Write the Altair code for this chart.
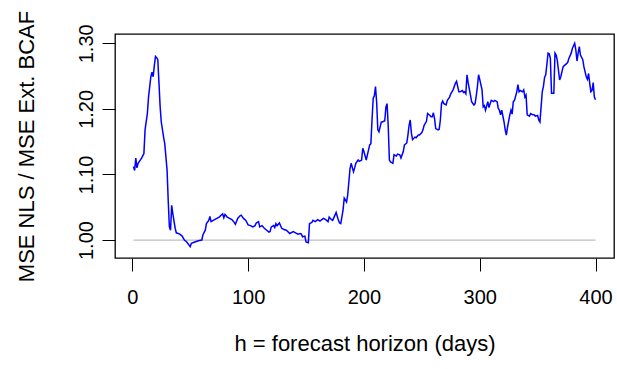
import altair as alt
import pandas as pd

# forecast horizon (days) and MSE ratio
h = [1, 2, 3, 4, 5, 8, 10, 11, 13, 14, 16, 17, 18, 19, 20, 21, 22, 23, 24, 25,
     27, 28, 30, 31, 32, 33, 34, 35, 37, 38, 41, 43, 45, 47, 50, 51, 54, 57, 60, 61,
     63, 64, 66, 67, 68, 71, 75, 78, 79, 80, 82, 84, 86, 88, 89, 91, 93, 94, 96, 98,
     100, 102, 104, 106, 107, 109, 110, 112, 114, 116, 118, 119, 120, 122, 123, 124, 125, 127, 129, 131,
     133, 136, 139, 141, 143, 145, 146, 147, 149, 150, 152, 153, 155, 156, 158, 160, 162, 165, 167, 169,
     170, 172, 173, 175, 176, 177, 178, 179, 180, 182, 183, 185, 186, 188, 189, 191, 192, 193, 195, 196,
     198, 199, 200, 202, 203, 205, 206, 207, 208, 209, 210, 211, 212, 213, 215, 216, 218, 219, 220, 221,
     222, 223, 225, 226, 228, 229, 231, 232, 234, 235, 237, 238, 239, 240, 241, 242, 244, 245, 247, 248,
     250, 251, 252, 254, 255, 257, 258, 259, 260, 261, 262, 264, 265, 266, 267, 268, 269, 271, 272, 274,
     275, 277, 278, 279, 280, 281, 282, 283, 285, 286, 287, 288, 289, 290, 292, 293, 295, 296, 297, 298,
     299, 300, 302, 303, 304, 305, 307, 308, 309, 310, 312, 313, 315, 316, 317, 318, 319, 321, 322, 323,
     324, 326, 327, 328, 329, 330, 332, 333, 334, 335, 337, 338, 339, 340, 341, 343, 344, 346, 347, 348,
     350, 351, 352, 354, 355, 356, 357, 358, 359, 360, 361, 362, 364, 365, 366, 367, 369, 370, 372, 373,
     375, 376, 377, 379, 380, 382, 383, 384, 385, 386, 387, 389, 390, 392, 393, 394, 395, 396, 397, 398,
     399, 400]

mse_ratio = [1.112, 1.106, 1.125, 1.110, 1.117, 1.125, 1.132, 1.168, 1.193, 1.218, 1.249, 1.256, 1.249, 1.266, 1.280, 1.278, 1.275, 1.240, 1.204, 1.180,
             1.157, 1.147, 1.107, 1.060, 1.020, 1.015, 1.053, 1.040, 1.018, 1.011, 1.009, 1.006, 1.000, 0.997, 0.990, 0.995, 0.997, 0.999, 1.000, 1.008,
             1.015, 1.025, 1.030, 1.036, 1.028, 1.031, 1.035, 1.040, 1.034, 1.039, 1.035, 1.033, 1.031, 1.027, 1.024, 1.033, 1.037, 1.038, 1.033, 1.030,
             1.023, 1.022, 1.020, 1.022, 1.026, 1.028, 1.020, 1.022, 1.018, 1.015, 1.012, 1.013, 1.020, 1.022, 1.019, 1.025, 1.022, 1.026, 1.018, 1.016,
             1.015, 1.010, 1.013, 1.011, 1.009, 1.010, 1.009, 1.005, 1.006, 0.997, 0.996, 1.025, 1.027, 1.030, 1.028, 1.031, 1.029, 1.033, 1.031, 1.028,
             1.035, 1.031, 1.030, 1.038, 1.042, 1.036, 1.030, 1.026, 1.025, 1.046, 1.064, 1.058, 1.069, 1.109, 1.117, 1.104, 1.110, 1.117, 1.122, 1.120,
             1.122, 1.140, 1.135, 1.122, 1.130, 1.145, 1.147, 1.183, 1.216, 1.220, 1.234, 1.210, 1.168, 1.165, 1.180, 1.180, 1.182, 1.203, 1.208, 1.173,
             1.122, 1.119, 1.117, 1.130, 1.128, 1.131, 1.130, 1.125, 1.135, 1.145, 1.148, 1.160, 1.175, 1.183, 1.163, 1.153, 1.157, 1.156, 1.160, 1.160,
             1.164, 1.168, 1.175, 1.181, 1.193, 1.190, 1.188, 1.188, 1.194, 1.185, 1.170, 1.168, 1.169, 1.183, 1.208, 1.212, 1.208, 1.206, 1.213, 1.218,
             1.223, 1.229, 1.234, 1.239, 1.242, 1.234, 1.226, 1.226, 1.228, 1.225, 1.226, 1.223, 1.252, 1.240, 1.221, 1.211, 1.206, 1.208, 1.220, 1.234,
             1.252, 1.245, 1.229, 1.203, 1.205, 1.198, 1.211, 1.202, 1.208, 1.213, 1.211, 1.213, 1.211, 1.201, 1.198, 1.191, 1.198, 1.180, 1.168, 1.160,
             1.172, 1.191, 1.198, 1.192, 1.211, 1.213, 1.226, 1.237, 1.226, 1.228, 1.226, 1.229, 1.218, 1.221, 1.191, 1.189, 1.193, 1.191, 1.191, 1.189,
             1.190, 1.183, 1.180, 1.226, 1.234, 1.248, 1.252, 1.268, 1.285, 1.284, 1.277, 1.224, 1.224, 1.285, 1.282, 1.274, 1.244, 1.249, 1.264, 1.266,
             1.269, 1.271, 1.277, 1.285, 1.292, 1.300, 1.290, 1.273, 1.285, 1.295, 1.282, 1.275, 1.264, 1.249, 1.245, 1.254, 1.239, 1.226, 1.228, 1.240,
             1.218, 1.214]

ref_h = [1, 400]
ref_ratio = [1.0, 1.0]

x_ticks = [0, 100, 200, 300, 400]
y_ticks = [1.00, 1.05, 1.10, 1.15, 1.20, 1.25, 1.30]

df = pd.DataFrame({"h": h, "ratio": mse_ratio})
ref = pd.DataFrame({"h": ref_h, "ratio": ref_ratio})

FONT = "Liberation Sans"

x_scale = alt.Scale(domain=[-14.96, 415.96], nice=False, zero=False)
y_scale = alt.Scale(domain=[0.9726, 1.3142], nice=False, zero=False)

x_axis = alt.Axis(
    values=x_ticks, title="h = forecast horizon (days)", grid=False, domain=False,
    tickColor="black", tickSize=13, tickWidth=1,
    labelFont=FONT, labelFontSize=20, labelColor="black", labelBaseline="alphabetic",
    labelPadding=32, labelFlush=False, labelOverlap=False,
    titleFont=FONT, titleFontSize=22, titleFontWeight="normal", titleColor="black",
    titleBaseline="alphabetic", titleX=249.5, titleY=92, titleAlign="center",
)
y_axis = alt.Axis(
    values=y_ticks, title="MSE NLS / MSE Ext. BCAF", grid=False, domain=False,
    tickColor="black", tickSize=13, tickWidth=1,
    labelExpr="round(datum.value*100) % 10 == 0 ? format(datum.value, '.2f') : ''",
    labelFont=FONT, labelFontSize=20, labelColor="black", labelAngle=270,
    labelAlign="center", labelBaseline="alphabetic", labelPadding=10,
    labelFlush=False, labelOverlap=False,
    titleFont=FONT, titleFontSize=22, titleFontWeight="normal", titleColor="black",
    titleAngle=270, titleBaseline="alphabetic", titleX=-82, titleY=112, titleAlign="center",
)

ref_line = alt.Chart(ref).mark_line(color="#BEBEBE", strokeWidth=1.2).encode(
    x=alt.X("h:Q", scale=x_scale, axis=x_axis),
    y=alt.Y("ratio:Q", scale=y_scale, axis=y_axis),
)
main_line = alt.Chart(df).mark_line(color="#0000FF", strokeWidth=1.5).encode(
    x=alt.X("h:Q", scale=x_scale),
    y=alt.Y("ratio:Q", scale=y_scale),
)

chart = alt.layer(ref_line, main_line).properties(
    width=499, height=224,
    autosize=alt.AutoSizeParams(type="none"),
    padding={"left": 115, "top": 34, "right": 3, "bottom": 111},
    background="white",
).configure_view(stroke="black", strokeWidth=1.3)

chart.save("out.html", embed_options={"renderer": "svg", "actions": False})
